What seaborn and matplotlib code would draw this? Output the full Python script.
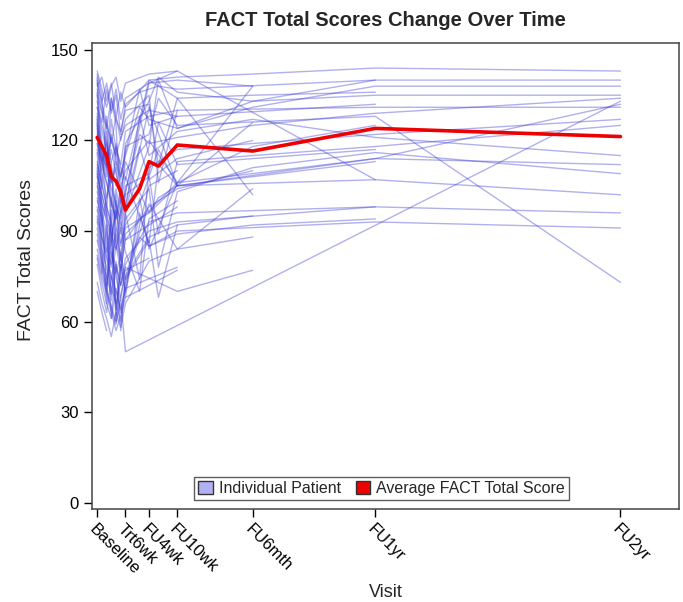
import seaborn as sns
import matplotlib.pyplot as plt
import matplotlib.transforms as mtransforms
from matplotlib.patches import Patch
import pandas as pd

# visit schedule (weeks from baseline)
weeks = [0, 1, 2, 3, 4, 5, 6, 9, 11, 13, 17, 33, 59, 111]
tick_weeks = [0, 6, 11, 17, 33, 59, 111]
tick_labels = ["Baseline", "Trt6wk", "FU4wk", "FU10wk", "FU6mth", "FU1yr", "FU2yr"]

# average FACT total score at each visit
mean_scores = [121, 118, 115, 108, 106.5, 103, 97, 104, 113, 111.5, 118.5, 116.5, 124, 121.3]

# individual patient scores, one row per patient (None = missed visit)
N = None
patient_scores = [
    [138, 141, 133, 139, 128, 136, 131, N, 140, N, 141, 142, 144, 143],
    [133, 126, 137, 129, 135, 122, 132, 136, N, 138, 137, N, 140, 140],
    [126, 104, 123, 98, 119, 108, 115, 131, 127, N, 124, 131, 138, 138],
    [142, 135, 110, 134, 125, 96, 119, N, 133, 141, 136, 133, 135, 135],
    [116, 92, 101, 113, 84, 97, 103, 122, 119, N, 121, 125, 129, 134],
    [121, 113, 119, 106, 111, 99, 108, N, 86, 112, 105, N, 114, 132],
    [129, 120, 95, 127, 117, 112, 123, N, 128, N, 130, N, 131, 131],
    [105, 97, 70, 101, 92, 85, 96, 74, 111, N, 117, 119, 122, 127],
    [111, 99, 94, 67, 100, 91, 102, N, 108, 89, 113, 115, 118, 125],
    [119, 113, 106, 99, 94, 105, 97, 128, 115, N, 123, 127, 121, 115],
    [97, 88, 83, 93, 62, 77, 89, N, N, N, 106, N, 114, 112],
    [101, 93, 86, 79, 91, 82, 94, N, 104, 78, 103, 111, 116, 109],
    [108, 102, 95, 88, 97, 86, 92, 99, N, 117, 105, N, 107, 102],
    [87, 79, 71, 83, 75, 67, 79, N, 93, N, 96, N, 98, 96],
    [79, 70, 63, 75, 66, 60, 71, 96, 85, N, 90, N, 93, 91],
    [123, 115, 111, 121, 113, 107, 118, N, 122, 134, 125, N, 128, 73],
    [91, 82, 71, 64, 59, 67, 50, N, N, N, N, N, N, 133],
    [135, 129, 124, 134, 127, 123, 130, N, 132, 112, 134, 135, 136, N],
    [127, 118, 112, 122, 115, 108, 116, 137, 125, N, 128, N, 132, N],
    [112, 105, 98, 93, 104, 95, 105, N, 109, 126, 112, 114, 117, N],
    [98, 91, 84, 78, 89, 81, 91, N, 96, 101, 105, 108, 113, N],
    [117, 109, 101, 108, 98, 94, 103, N, 139, N, 143, N, 107, N],
    [89, 80, 75, 69, 79, 72, 81, N, 90, N, 93, N, 98, N],
    [81, 73, 66, 61, 71, 63, 73, 88, 85, N, 89, 92, 94, N],
    [140, 133, 139, 130, 137, 127, 134, N, 139, N, 140, 138, N, N],
    [122, 114, 108, 117, 109, 102, 113, N, 96, N, 105, 126, N, N],
    [106, 99, 93, 86, 97, 89, 99, 118, 107, N, 114, 120, N, N],
    [94, 87, 81, 74, 85, 77, 87, N, 98, N, 104, 110, N, N],
    [131, 125, 119, 113, 118, 111, 107, N, 140, N, 134, 102, N, N],
    [84, 77, 70, 65, 60, 69, 75, N, 88, N, 92, 95, N, N],
    [73, 66, 61, 55, 63, 58, 66, N, 80, N, 84, 88, N, N],
    [93, 84, 78, 71, 66, 73, 78, N, N, N, 70, 77, N, N],
    [143, 137, 131, 138, 141, 133, 139, N, 142, N, 143, N, N, N],
    [137, 130, 125, 119, 128, 120, 127, N, 135, 106, 130, N, N, N],
    [125, 118, 112, 106, 113, 105, 110, N, 120, N, 106, 138, N, N],
    [119, 112, 106, 100, 94, 101, 96, N, 131, N, 105, N, N, N],
    [109, 102, 96, 89, 84, 91, 83, 70, 94, N, 100, N, N, N],
    [100, 94, 88, 82, 76, 82, 74, N, 87, 68, 92, N, N, N],
    [95, 88, 82, 75, 70, 64, 71, N, N, N, 78, N, N, N],
    [82, 75, 69, 63, 57, 62, 68, N, 72, N, 77, N, N, N],
    [113, 106, 98, 92, 86, 80, N, N, N, N, N, N, N, N],
    [131, 123, 117, 111, 105, N, N, N, N, N, N, N, N, N],
    [70, 63, 57, N, N, N, N, N, N, N, N, N, N, N],
    [103, 96, 90, 84, 78, 72, 77, N, 81, N, N, N, N, N],
    [139, 132, 126, 120, 115, 121, 125, N, 130, N, 128, N, N, N],
    [124, 116, 110, 104, 99, 93, 87, N, 92, N, 98, N, N, N],
    [136, 98, 72, 88, 64, 79, 70, 92, 105, N, 110, N, N, N],
    [141, 110, 128, 85, 102, 74, 96, N, 118, 140, 124, 133, 140, N],
    [128, 84, 66, 97, 60, 83, 68, 101, 84, N, 106, 118, 125, N],
    [110, 76, 92, 61, 80, 57, 75, N, 99, N, 84, 104, N, N],
]

# long format, dropping missed visits so lines connect across them
rows = []
for pid, scores in enumerate(patient_scores):
    for w, s in zip(weeks, scores):
        if s is not None:
            rows.append((pid, w, s))
df = pd.DataFrame(rows, columns=["patient", "week", "score"])
mean_df = pd.DataFrame({"week": weeks, "score": mean_scores})

sns.set_style("ticks")
plt.rcParams["font.family"] = ["Liberation Sans", "DejaVu Sans"]

fig = plt.figure(figsize=(6.83, 6.02), dpi=100)
ax = fig.add_axes([0.134, 0.155, 0.86, 0.7736])

line_col = "#3b3bd4"
sns.lineplot(data=df, x="week", y="score", units="patient", estimator=None,
             color=line_col, alpha=0.4, lw=1.0, ax=ax, legend=False)
sns.lineplot(data=mean_df, x="week", y="score", color="#ee0000", lw=2.6,
             ax=ax, legend=False)

ax.set_xlim(-1.2, 123.4)
ax.set_ylim(-2, 152.3)
ax.set_yticks([0, 30, 60, 90, 120, 150])
ax.set_xticks(tick_weeks)
ax.set_xticklabels(tick_labels, rotation=-45, ha="left", va="top",
                   rotation_mode="anchor")
offset = mtransforms.ScaledTranslation(-4 / 100, -2 / 100, fig.dpi_scale_trans)
for lab in ax.get_xticklabels():
    lab.set_transform(lab.get_transform() + offset)
ax.tick_params(axis="both", direction="out", length=6, width=1, color="black",
               labelsize=12, labelcolor="black")
for sp in ax.spines.values():
    sp.set_color("#444444")
    sp.set_linewidth(1.1)

ax.set_title("FACT Total Scores Change Over Time", fontsize=14.5,
             fontweight="bold", pad=12)
ax.set_xlabel("Visit", fontsize=13)
ax.set_ylabel("FACT Total Scores", fontsize=14)
ax.xaxis.set_label_coords(0.501, -0.162)
ax.yaxis.set_label_coords(-0.097, 0.534)

handles = [Patch(facecolor="#b0b0f2", edgecolor="#333333", label="Individual Patient"),
           Patch(facecolor="#ee0000", edgecolor="#333333", label="Average FACT Total Score")]
leg = ax.legend(handles=handles, loc="lower center", bbox_to_anchor=(0.494, 0.018),
                ncol=2, fontsize=11.5, frameon=True, fancybox=False,
                handlelength=0.9, handleheight=0.9, handletextpad=0.4,
                columnspacing=0.9, borderpad=0.25, borderaxespad=0)
leg.get_frame().set_edgecolor("#333333")
leg.get_frame().set_linewidth(1.0)

plt.savefig("out.png", dpi=100)
